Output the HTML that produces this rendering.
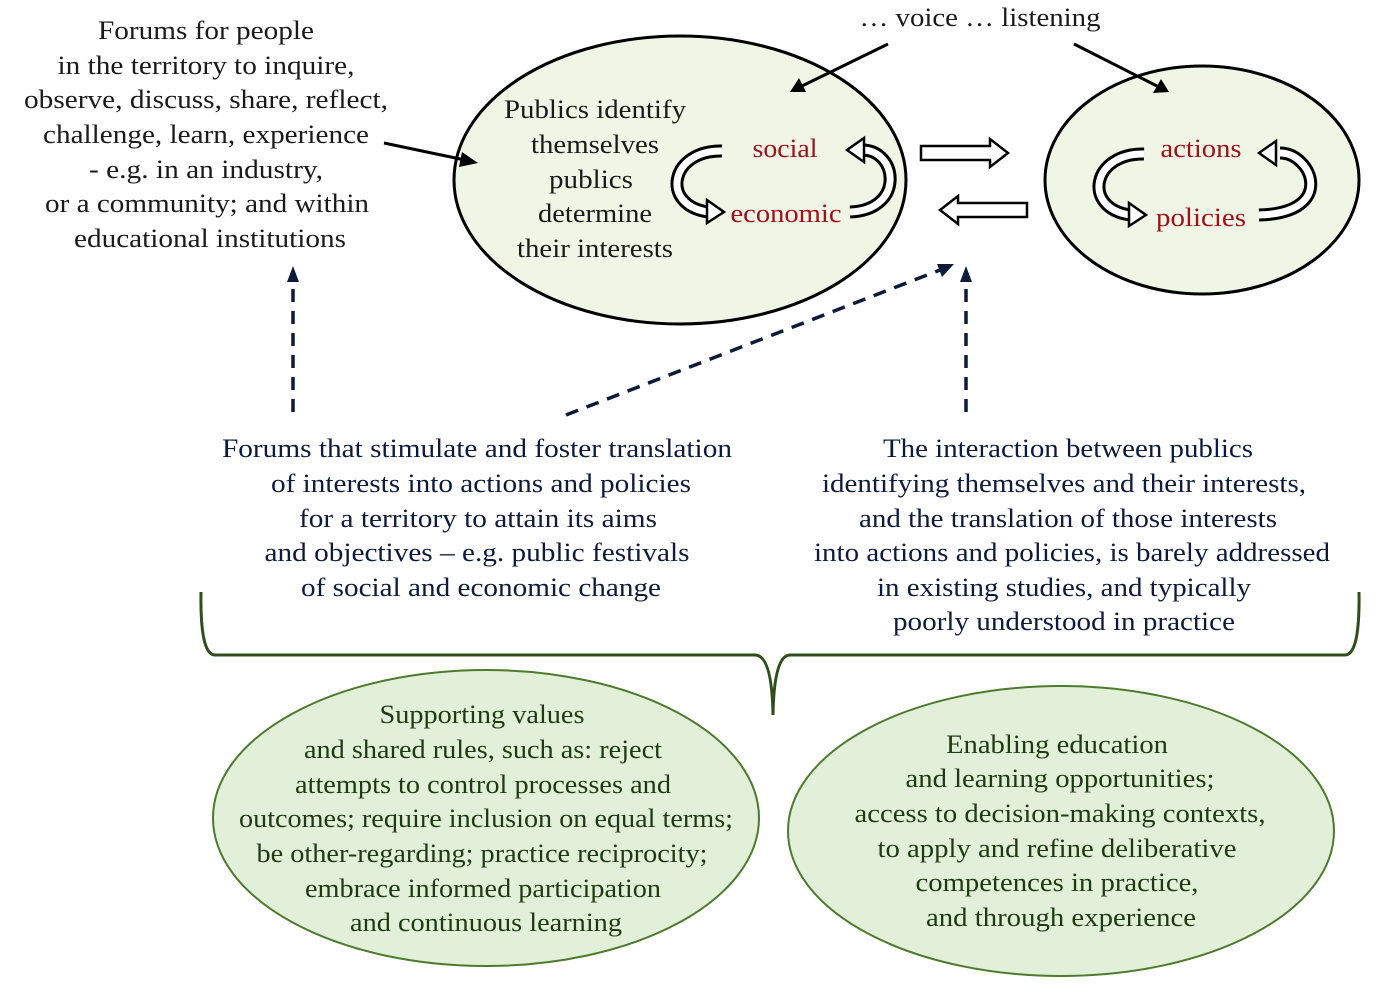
<!DOCTYPE html>
<html><head><meta charset="utf-8"><style>
body{margin:0;background:#fff;}
svg{display:block}
text{font-family:"Liberation Serif","Times New Roman","DejaVu Serif",serif;font-size:26px;fill:#1a1a1a;text-anchor:middle}
.r{fill:#a00f1a}
.g{fill:#1e3a12}
.n{fill:#0e1a3a}
</style></head><body>
<svg width="1387" height="986" viewBox="0 0 1387 986">
<ellipse cx="680" cy="180" rx="226" ry="144" fill="#f1f5e6" stroke="#000" stroke-width="3"/>
<ellipse cx="1202" cy="180" rx="157" ry="114" fill="#f1f5e6" stroke="#000" stroke-width="3"/>
<ellipse cx="486" cy="818" rx="273" ry="148" fill="#e2efd9" stroke="#4e7a2e" stroke-width="2"/>
<ellipse cx="1061" cy="831" rx="273" ry="145" fill="#e2efd9" stroke="#4e7a2e" stroke-width="2"/>
<path d="M201,592 Q200,655 215,655 L755,655 Q772,655 773,715 Q774,655 790,655 L1345,655 Q1360,655 1359,592" fill="none" stroke="#2f4f1a" stroke-width="3"/>
<g fill="none" stroke-linecap="butt">
<path d="M722,151 C670,150 660,205 708,212" stroke="#000" stroke-width="13"/>
<path d="M722,151 C670,150 660,205 708,212" stroke="#fff" stroke-width="7"/>
<path d="M850,212 C905,210 898,150 862,150" stroke="#000" stroke-width="13"/>
<path d="M850,212 C905,210 898,150 862,150" stroke="#fff" stroke-width="7"/>
<g transform="translate(422,3)">
<path d="M722,151 C670,150 660,205 708,212" stroke="#000" stroke-width="13"/>
<path d="M722,151 C670,150 660,205 708,212" stroke="#fff" stroke-width="7"/>
<path d="M837,212 C915,210 890,150 858,150" stroke="#000" stroke-width="13"/>
<path d="M837,212 C915,210 890,150 858,150" stroke="#fff" stroke-width="7"/>
</g>
</g>
<g fill="#fff" stroke="#000" stroke-width="2.5">
<polygon points="707,200 724,212 707,223"/>
<polygon points="864,138 847,150 864,162"/>
<polygon points="1129,203 1146,215 1129,226"/>
<polygon points="1276,141 1259,153 1276,165"/>
<polygon points="921,146 990,146 990,139 1008,153 990,167 990,160 921,160"/>
<polygon points="1027,203 958,203 958,196 940,210 958,224 958,217 1027,217"/>
</g>
<g stroke="#000" stroke-width="3">
<line x1="384" y1="143" x2="465" y2="160"/>
<line x1="888" y1="44" x2="802" y2="86"/>
<line x1="1074" y1="44" x2="1157" y2="86"/>
</g>
<g fill="#000">
<polygon points="478,163 462,152 459,167"/>
<polygon points="790,92 799,78 806,92"/>
<polygon points="1169,92 1153,93 1161,79"/>
</g>
<g stroke="#0e1a3a" stroke-width="3.5" stroke-dasharray="13,9" fill="none">
<line x1="293" y1="412" x2="293" y2="282"/>
<line x1="566" y1="415" x2="940" y2="270"/>
<line x1="966" y1="412" x2="966" y2="282"/>
</g>
<g fill="#0e1a3a">
<polygon points="293,266 287,282 299,282"/>
<polygon points="954,264 937,264 942,277"/>
<polygon points="966,266 960,282 972,282"/>
</g>
<g lengthAdjust="spacingAndGlyphs">
<text x="206" y="39" textLength="216" lengthAdjust="spacingAndGlyphs">Forums for people</text>
<text x="206" y="74" textLength="297" lengthAdjust="spacingAndGlyphs">in the territory to inquire,</text>
<text x="206" y="108" textLength="364" lengthAdjust="spacingAndGlyphs">observe, discuss, share, reflect,</text>
<text x="206" y="143" textLength="326" lengthAdjust="spacingAndGlyphs">challenge, learn, experience</text>
<text x="206" y="178" textLength="234" lengthAdjust="spacingAndGlyphs">- e.g. in an industry,</text>
<text x="207" y="212" textLength="324" lengthAdjust="spacingAndGlyphs">or a community; and within</text>
<text x="210" y="247" textLength="272" lengthAdjust="spacingAndGlyphs">educational institutions</text>
<text x="980" y="26" textLength="241" lengthAdjust="spacingAndGlyphs">… voice … listening</text>
<text x="595" y="118" textLength="182" lengthAdjust="spacingAndGlyphs">Publics identify</text>
<text x="595" y="153" textLength="128" lengthAdjust="spacingAndGlyphs">themselves</text>
<text x="591" y="188" textLength="84" lengthAdjust="spacingAndGlyphs">publics</text>
<text x="595" y="222" textLength="114" lengthAdjust="spacingAndGlyphs">determine</text>
<text x="595" y="257" textLength="156" lengthAdjust="spacingAndGlyphs">their interests</text>
<text class="r" x="785" y="157" textLength="65" lengthAdjust="spacingAndGlyphs">social</text>
<text class="r" x="786" y="222" textLength="111" lengthAdjust="spacingAndGlyphs">economic</text>
<text class="r" x="1201" y="157" textLength="81" lengthAdjust="spacingAndGlyphs">actions</text>
<text class="r" x="1201" y="226" textLength="90" lengthAdjust="spacingAndGlyphs">policies</text>
<text class="n" x="477" y="457" textLength="510" lengthAdjust="spacingAndGlyphs">Forums that stimulate and foster translation</text>
<text class="n" x="481" y="492" textLength="420" lengthAdjust="spacingAndGlyphs">of interests into actions and policies</text>
<text class="n" x="478" y="527" textLength="358" lengthAdjust="spacingAndGlyphs">for a territory to attain its aims</text>
<text class="n" x="477" y="561" textLength="425" lengthAdjust="spacingAndGlyphs">and objectives – e.g. public festivals</text>
<text class="n" x="481" y="596" textLength="360" lengthAdjust="spacingAndGlyphs">of social and economic change</text>
<text class="n" x="1068" y="457" textLength="370" lengthAdjust="spacingAndGlyphs">The interaction between publics</text>
<text class="n" x="1064" y="492" textLength="484" lengthAdjust="spacingAndGlyphs">identifying themselves and their interests,</text>
<text class="n" x="1068" y="527" textLength="418" lengthAdjust="spacingAndGlyphs">and the translation of those interests</text>
<text class="n" x="1072" y="561" textLength="516" lengthAdjust="spacingAndGlyphs">into actions and policies, is barely addressed</text>
<text class="n" x="1064" y="596" textLength="374" lengthAdjust="spacingAndGlyphs">in existing studies, and typically</text>
<text class="n" x="1064" y="630" textLength="342" lengthAdjust="spacingAndGlyphs">poorly understood in practice</text>
<text class="g" x="482" y="723" textLength="205" lengthAdjust="spacingAndGlyphs">Supporting values</text>
<text class="g" x="483" y="758" textLength="358" lengthAdjust="spacingAndGlyphs">and shared rules, such as: reject</text>
<text class="g" x="483" y="793" textLength="376" lengthAdjust="spacingAndGlyphs">attempts to control processes and</text>
<text class="g" x="486" y="827" textLength="494" lengthAdjust="spacingAndGlyphs">outcomes; require inclusion on equal terms;</text>
<text class="g" x="482" y="862" textLength="451" lengthAdjust="spacingAndGlyphs">be other-regarding; practice reciprocity;</text>
<text class="g" x="483" y="897" textLength="356" lengthAdjust="spacingAndGlyphs">embrace informed participation</text>
<text class="g" x="486" y="931" textLength="272" lengthAdjust="spacingAndGlyphs">and continuous learning</text>
<text class="g" x="1057" y="753" textLength="222" lengthAdjust="spacingAndGlyphs">Enabling education</text>
<text class="g" x="1060" y="787" textLength="309" lengthAdjust="spacingAndGlyphs">and learning opportunities;</text>
<text class="g" x="1060" y="822" textLength="411" lengthAdjust="spacingAndGlyphs">access to decision-making contexts,</text>
<text class="g" x="1057" y="857" textLength="359" lengthAdjust="spacingAndGlyphs">to apply and refine deliberative</text>
<text class="g" x="1057" y="891" textLength="283" lengthAdjust="spacingAndGlyphs">competences in practice,</text>
<text class="g" x="1061" y="926" textLength="270" lengthAdjust="spacingAndGlyphs">and through experience</text>
</g>
</svg>
</body></html>
